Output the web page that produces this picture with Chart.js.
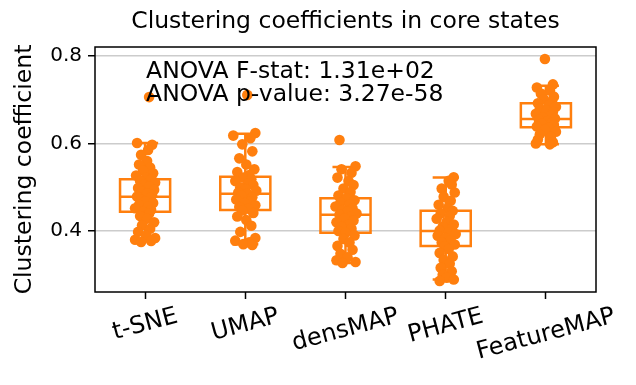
<!DOCTYPE html>
<html>
<head>
<meta charset="utf-8">
<script src="https://cdn.jsdelivr.net/npm/chart.js@4.4.1/dist/chart.umd.min.js"></script>
<style>
  html, body { margin: 0; padding: 0; background: #ffffff; }
  #wrap { width: 636px; height: 385px; }
</style>
</head>
<body>
<div id="wrap"><canvas id="c" width="636" height="385"></canvas></div>
<script>
// ---------------- data ----------------
const chartTitle = 'Clustering coefficients in core states';
const yAxisTitle = 'Clustering coefficient';
const categories = ['t-SNE', 'UMAP', 'densMAP', 'PHATE', 'FeatureMAP'];
const yTicks = [0.4, 0.6, 0.8];
const annotLines = ['ANOVA F-stat: 1.31e+02', 'ANOVA p-value: 3.27e-58'];

// box statistics
const q1Vals     = [0.444, 0.448, 0.396, 0.366, 0.637];
const medianVals = [0.478, 0.485, 0.437, 0.400, 0.656];
const q3Vals     = [0.518, 0.524, 0.475, 0.446, 0.692];
const whiskerLo  = [0.377, 0.370, 0.327, 0.289, 0.598];
const whiskerHi  = [0.601, 0.622, 0.546, 0.522, 0.732];

// individual points
const tsneVals = [0.706,0.601,0.597,0.585,0.574,0.560,0.552,0.545,0.538,0.532,
  0.527,0.522,0.518,0.515,0.511,0.506,0.502,0.498,0.494,0.490,
  0.486,0.482,0.479,0.476,0.472,0.468,0.464,0.460,0.456,0.452,
  0.448,0.444,0.440,0.434,0.428,0.420,0.413,0.405,0.398,0.390,
  0.384,0.380,0.377,0.375];
const tsneJitter = [0.04,-0.08,0.07,0.03,-0.04,0.02,-0.06,0.05,-0.02,0.08,
  -0.09,0.01,0.06,-0.05,0.1,-0.01,0.04,-0.07,0.09,-0.03,
  0.02,0.07,-0.08,0.05,-0.04,0.0,0.08,-0.06,0.03,-0.1,
  0.06,-0.02,0.04,-0.05,0.02,0.09,-0.03,0.05,-0.07,0.01,
  0.1,-0.1,0.06,-0.04];

const umapVals = [0.711,0.624,0.618,0.612,0.598,0.582,0.566,0.552,0.541,0.535,
  0.528,0.522,0.518,0.514,0.509,0.505,0.500,0.496,0.492,0.488,
  0.485,0.481,0.477,0.472,0.468,0.464,0.459,0.455,0.451,0.447,
  0.441,0.433,0.425,0.412,0.398,0.384,0.378,0.374,0.370,0.368];
const umapJitter = [0.02,0.1,-0.12,0.05,-0.03,0.07,-0.06,0.01,0.09,-0.08,
  0.04,-0.02,0.06,-0.1,0.03,0.08,-0.05,0.0,0.11,-0.07,
  0.02,-0.04,0.07,-0.09,0.05,-0.01,0.1,-0.06,0.03,-0.03,
  0.08,-0.08,0.01,0.06,-0.05,0.1,-0.1,0.04,-0.02,0.07];

const densmapVals = [0.608,0.548,0.541,0.533,0.522,0.514,0.505,0.497,0.489,0.481,
  0.475,0.470,0.465,0.461,0.456,0.452,0.448,0.444,0.440,0.437,
  0.433,0.429,0.424,0.420,0.415,0.410,0.405,0.400,0.396,0.390,
  0.382,0.374,0.366,0.357,0.348,0.340,0.333,0.329,0.327];
const densmapJitter = [-0.06,0.1,-0.04,0.06,-0.08,0.03,0.08,-0.02,0.05,-0.07,
  0.01,0.09,-0.05,0.04,-0.1,0.07,-0.03,0.02,0.11,-0.06,
  0.05,-0.01,0.08,-0.09,0.03,-0.04,0.06,-0.07,0.0,0.09,
  -0.02,0.04,-0.08,0.07,-0.05,0.02,-0.09,0.1,-0.03];

const phateVals = [0.523,0.515,0.506,0.497,0.488,0.478,0.469,0.460,0.452,0.446,
  0.440,0.434,0.428,0.421,0.415,0.410,0.405,0.401,0.397,0.393,
  0.389,0.384,0.379,0.374,0.369,0.365,0.359,0.350,0.342,0.334,
  0.325,0.316,0.308,0.300,0.293,0.289,0.286];
const phateJitter = [0.08,0.03,0.06,-0.04,0.09,-0.02,0.05,-0.07,0.02,0.07,
  -0.05,0.04,-0.09,0.01,0.08,-0.03,0.06,-0.06,0.03,0.1,
  -0.08,0.0,0.05,-0.04,0.09,-0.01,0.03,-0.06,0.07,-0.02,
  0.04,-0.05,0.06,-0.03,0.01,0.08,-0.06];

const featuremapVals = [0.793,0.735,0.728,0.721,0.714,0.707,0.701,0.696,0.692,0.688,
  0.684,0.680,0.676,0.672,0.668,0.664,0.660,0.657,0.654,0.651,
  0.648,0.645,0.642,0.639,0.636,0.632,0.627,0.621,0.615,0.609,
  0.603,0.600,0.598];
const featuremapJitter = [-0.01,0.07,-0.09,0.04,-0.05,0.08,-0.02,0.06,-0.08,0.03,
  0.1,-0.06,0.01,0.07,-0.1,0.05,-0.03,0.09,-0.07,0.02,
  0.06,-0.04,0.08,-0.09,0.03,-0.01,0.1,-0.06,0.05,-0.08,
  0.07,-0.1,0.04];

const groupVals = [tsneVals, umapVals, densmapVals, phateVals, featuremapVals];
const groupJitter = [tsneJitter, umapJitter, densmapJitter, phateJitter, featuremapJitter];

// ---------------- styling ----------------
const ORANGE = '#ff7f0e';
const FONT = '"DejaVu Sans", "Liberation Sans", Arial, sans-serif';
const BOX_HALF = 0.25;
const CAP_HALF = 0.13;

// ---------------- build datasets ----------------
const pointData = [];
groupVals.forEach((vals, i) => vals.forEach((v, k) => pointData.push({ x: i + (groupJitter[i][k] || 0), y: v })));

const boxData = [];
const medianData = [];
const whiskerData = [];
categories.forEach((c, i) => {
  boxData.push({x: i - BOX_HALF, y: q1Vals[i]}, {x: i + BOX_HALF, y: q1Vals[i]},
               {x: i + BOX_HALF, y: q3Vals[i]}, {x: i - BOX_HALF, y: q3Vals[i]},
               {x: i - BOX_HALF, y: q1Vals[i]}, {x: i, y: null});
  medianData.push({x: i - BOX_HALF, y: medianVals[i]}, {x: i + BOX_HALF, y: medianVals[i]}, {x: i, y: null});
  whiskerData.push({x: i, y: q1Vals[i]}, {x: i, y: whiskerLo[i]}, {x: i, y: null},
                   {x: i - CAP_HALF, y: whiskerLo[i]}, {x: i + CAP_HALF, y: whiskerLo[i]}, {x: i, y: null},
                   {x: i, y: q3Vals[i]}, {x: i, y: whiskerHi[i]}, {x: i, y: null},
                   {x: i - CAP_HALF, y: whiskerHi[i]}, {x: i + CAP_HALF, y: whiskerHi[i]}, {x: i, y: null});
});

const lineDefaults = {
  type: 'line', borderColor: ORANGE, borderWidth: 2.5, pointRadius: 0,
  fill: false, tension: 0, spanGaps: false, order: 1
};

// ---------------- plugins ----------------
const decorPlugin = {
  id: 'decor',
  afterDraw(chart) {
    const {ctx, chartArea, scales} = chart;
    ctx.save();
    // frame
    ctx.strokeStyle = '#000';
    ctx.lineWidth = 1.5;
    ctx.strokeRect(chartArea.left, chartArea.top, chartArea.right - chartArea.left, chartArea.bottom - chartArea.top);
    // title
    ctx.fillStyle = '#000';
    ctx.font = '23.5px ' + FONT;
    ctx.textAlign = 'center';
    ctx.textBaseline = 'middle';
    ctx.fillText(chartTitle, (chartArea.left + chartArea.right) / 2, 22);
    // annotation
    ctx.textAlign = 'left';
    ctx.textBaseline = 'alphabetic';
    const ax = scales.x.getPixelForValue(0) + 1;
    annotLines.forEach((t, k) => ctx.fillText(t, ax, chartArea.top + 31 + k * 23));
    // x tick labels, rotated and centred on the ticks
    const rot = 15 * Math.PI / 180;
    const fs = 24;
    ctx.font = fs + 'px ' + FONT;
    ctx.textAlign = 'center';
    ctx.textBaseline = 'middle';
    categories.forEach((c, i) => {
      const px = scales.x.getPixelForValue(i);
      const w = ctx.measureText(c).width;
      const h = fs * 0.95;
      const hr = w * Math.sin(rot) + h * Math.cos(rot);
      const cy = chartArea.bottom + 13 + hr / 2;
      ctx.save();
      ctx.translate(px, cy);
      ctx.rotate(-rot);
      ctx.fillText(c, 0, 0);
      ctx.restore();
    });
    ctx.restore();
  }
};

// ---------------- chart ----------------
new Chart(document.getElementById('c'), {
  type: 'scatter',
  data: {
    datasets: [
      { type: 'scatter', data: pointData, backgroundColor: ORANGE, borderWidth: 0, pointRadius: 5.3, pointHoverRadius: 5.3, order: 0 },
      Object.assign({}, lineDefaults, { data: boxData, borderCapStyle: 'square', borderJoinStyle: 'miter' }),
      Object.assign({}, lineDefaults, { data: medianData }),
      Object.assign({}, lineDefaults, { data: whiskerData })
    ]
  },
  options: {
    responsive: false,
    animation: false,
    devicePixelRatio: 1,
    layout: { padding: { top: 47, right: 40, left: 0, bottom: 0 } },
    plugins: { legend: { display: false }, tooltip: { enabled: false }, title: { display: false } },
    scales: {
      x: {
        type: 'linear', min: -0.5, max: 4.5,
        afterBuildTicks: s => { s.ticks = categories.map((c, i) => ({ value: i })); },
        ticks: { display: false },
        grid: { drawOnChartArea: false, drawTicks: true, tickLength: 7, tickColor: '#000', tickWidth: 1.5 },
        border: { display: false },
        afterFit: s => { s.height = 93; }
      },
      y: {
        type: 'linear', min: 0.2606, max: 0.8205,
        afterBuildTicks: s => { s.ticks = yTicks.map(v => ({ value: v })); },
        ticks: { color: '#000', font: { family: FONT, size: 20 }, padding: 6, callback: v => v.toFixed(1) },
        grid: { color: '#cccccc', lineWidth: 1.5, drawTicks: true, tickLength: 7, tickColor: '#000', tickWidth: 1.5 },
        border: { display: false },
        title: { display: true, text: yAxisTitle, color: '#000', font: { family: FONT, size: 23.5 }, padding: { top: 11, bottom: 0 } },
        afterFit: s => { s.width = 95; }
      }
    }
  },
  plugins: [decorPlugin]
});
</script>
</body>
</html>
